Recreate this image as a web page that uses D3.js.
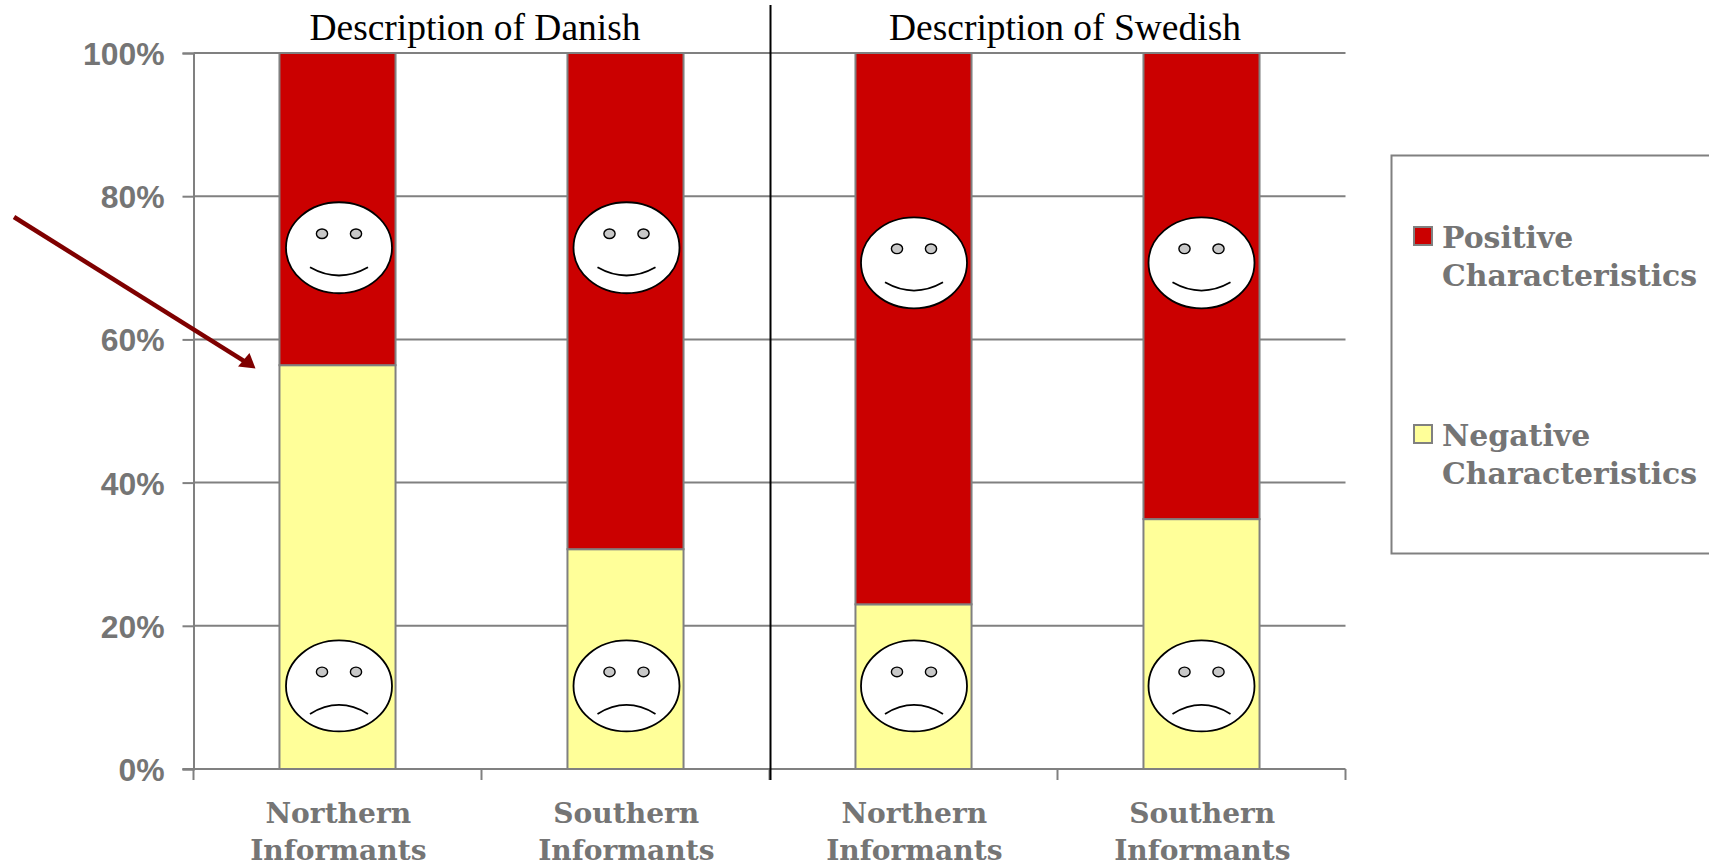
<!DOCTYPE html>
<html><head><meta charset="utf-8">
<script src="https://cdn.jsdelivr.net/npm/d3@7"></script>
<style>html,body{margin:0;padding:0;background:#fff;overflow:hidden}svg{display:block}</style>
</head><body><svg id="c" width="1709" height="864"></svg>
<script>
const groups = ["Northern Informants|D","Southern Informants|D","Northern Informants|S","Southern Informants|S"];
const negative = [56.4, 30.7, 23.0, 34.9];
const positive = [43.6, 69.3, 77.0, 65.1];
const happyFaceAt = [72.8, 72.8, 70.7, 70.7];
const sadFaceAt = [11.6, 11.6, 11.6, 11.6];
const yTicks = [0,20,40,60,80,100];
const panelTitles = ["Description of Danish","Description of Swedish"];
const legendItems = [["Positive","Characteristics"],["Negative","Characteristics"]];

const RED="#cb0000", YEL="#ffff99", GREY="#808080", TXT="#757575";
const svg=d3.select("#c");
const x=d3.scaleBand().domain(groups).range([193.5,1345.5]);
const y=d3.scaleLinear().domain([0,100]).range([769,53]);
const barW=x.bandwidth()*0.403;
const cx=d=>x(d)+x.bandwidth()/2;

// gridlines
svg.append("g").selectAll("line").data(yTicks.filter(t=>t>0)).join("line")
  .attr("x1",193.5).attr("x2",1345.5).attr("y1",d=>y(d)).attr("y2",d=>y(d))
  .attr("stroke",GREY).attr("stroke-width",2);

// y axis
const yAxis=svg.append("g").attr("transform","translate(193.5,0)")
  .call(d3.axisLeft(y).tickValues(yTicks).tickFormat(d=>d+"%").tickSize(11).tickPadding(18));
yAxis.select(".domain").attr("stroke",GREY).attr("stroke-width",2);
yAxis.selectAll(".tick line").attr("stroke",GREY).attr("stroke-width",2);
yAxis.selectAll("text").attr("fill",TXT).attr("font-family","'Liberation Sans',Arial,sans-serif")
  .attr("font-weight","bold").attr("font-size",31.9).attr("dy","0.36em");

// stacked bars
const G=svg.append("g");
G.selectAll("rect.neg").data(groups).join("rect").attr("class","neg")
  .attr("x",d=>cx(d)-barW/2).attr("width",barW)
  .attr("y",(d,i)=>y(negative[i])).attr("height",(d,i)=>y(0)-y(negative[i]))
  .attr("fill",YEL).attr("stroke",GREY).attr("stroke-width",2);
G.selectAll("rect.pos").data(groups).join("rect").attr("class","pos")
  .attr("x",d=>cx(d)-barW/2).attr("width",barW)
  .attr("y",(d,i)=>y(negative[i]+positive[i])).attr("height",(d,i)=>y(negative[i])-y(negative[i]+positive[i]))
  .attr("fill",RED).attr("stroke",GREY).attr("stroke-width",2);

// x axis
const xAxis=svg.append("g").attr("transform","translate(0,769)");
xAxis.append("line").attr("x1",182.5).attr("x2",1345.5).attr("stroke",GREY).attr("stroke-width",2);
xAxis.selectAll("line.t").data([...groups.map(d=>x(d)),1345.5]).join("line").attr("class","t")
  .attr("x1",d=>d).attr("x2",d=>d).attr("y1",0).attr("y2",11).attr("stroke",GREY).attr("stroke-width",2);
const CATFONT="'DejaVu Serif',Georgia,serif";
const lab=svg.append("g").selectAll("text").data(groups).join("text")
  .attr("text-anchor","middle").attr("fill",TXT).attr("font-family",CATFONT).attr("font-weight","bold").attr("font-size",28.1);
lab.selectAll("tspan").data(d=>d.split("|")[0].split(" ").map(w=>({w,c:cx(d)+0.8}))).join("tspan")
  .attr("x",e=>e.c).attr("y",(e,i)=>823+i*37).text(e=>e.w);

// faces
function face(cxv,cyv,happy){
  const g=svg.append("g").attr("transform",`translate(${cxv},${cyv})`);
  g.append("ellipse").attr("rx",53).attr("ry",45.5).attr("fill","#fff").attr("stroke","#000").attr("stroke-width",1.8);
  [-17,17].forEach(dx=>g.append("ellipse").attr("cx",dx).attr("cy",-14).attr("rx",5.6).attr("ry",4.8)
    .attr("fill","#c8c8c8").attr("stroke","#000").attr("stroke-width",1.4));
  g.append("path").attr("d",happy?"M-29,19.5Q0,36 29,19.5":"M-29,28Q0,10 29,28")
    .attr("fill","none").attr("stroke","#000").attr("stroke-width",1.8);
}
const faceNudge=[1.5,1,0.5,0];
groups.forEach((d,i)=>{face(cx(d)+faceNudge[i],y(happyFaceAt[i]),true);face(cx(d)+faceNudge[i],y(sadFaceAt[i]),false);});

// divider
svg.append("line").attr("x1",770.5).attr("x2",770.5).attr("y1",5).attr("y2",780).attr("stroke","#000").attr("stroke-width",2);

// panel titles
svg.append("g").selectAll("text").data(panelTitles).join("text")
  .attr("x",(d,i)=>[475,1065][i]).attr("y",40).attr("text-anchor","middle")
  .attr("font-family","'Liberation Serif','Times New Roman',serif").attr("font-size",37.5).attr("fill","#000").text(d=>d);

// arrow
const arrowTail=[14,217];
svg.append("line").attr("x1",arrowTail[0]).attr("y1",arrowTail[1]).attr("x2",245).attr("y2",361.7)
  .attr("stroke","#7f0000").attr("stroke-width",4.5);
svg.append("path").attr("d","M255.5,368.5L238,366.5L249.5,353Z").attr("fill","#7f0000");

// legend
svg.append("rect").attr("x",1391.5).attr("y",155.5).attr("width",340).attr("height",398)
  .attr("fill","none").attr("stroke",GREY).attr("stroke-width",2);
const lg=svg.append("g").selectAll("g").data(legendItems).join("g").attr("transform",(d,i)=>`translate(0,${[227,425][i]})`);
lg.append("rect").attr("x",1414).attr("y",0).attr("width",18).attr("height",18)
  .attr("fill",(d,i)=>[RED,YEL][i]).attr("stroke",GREY).attr("stroke-width",2);
lg.each(function(d){
  d3.select(this).selectAll("text").data(d).join("text").attr("x",1442).attr("y",(e,i)=>21+i*37.5)
    .attr("fill",TXT).attr("font-family",CATFONT).attr("font-weight","bold").attr("font-size",29.9).text(e=>e);
});
</script></body></html>
